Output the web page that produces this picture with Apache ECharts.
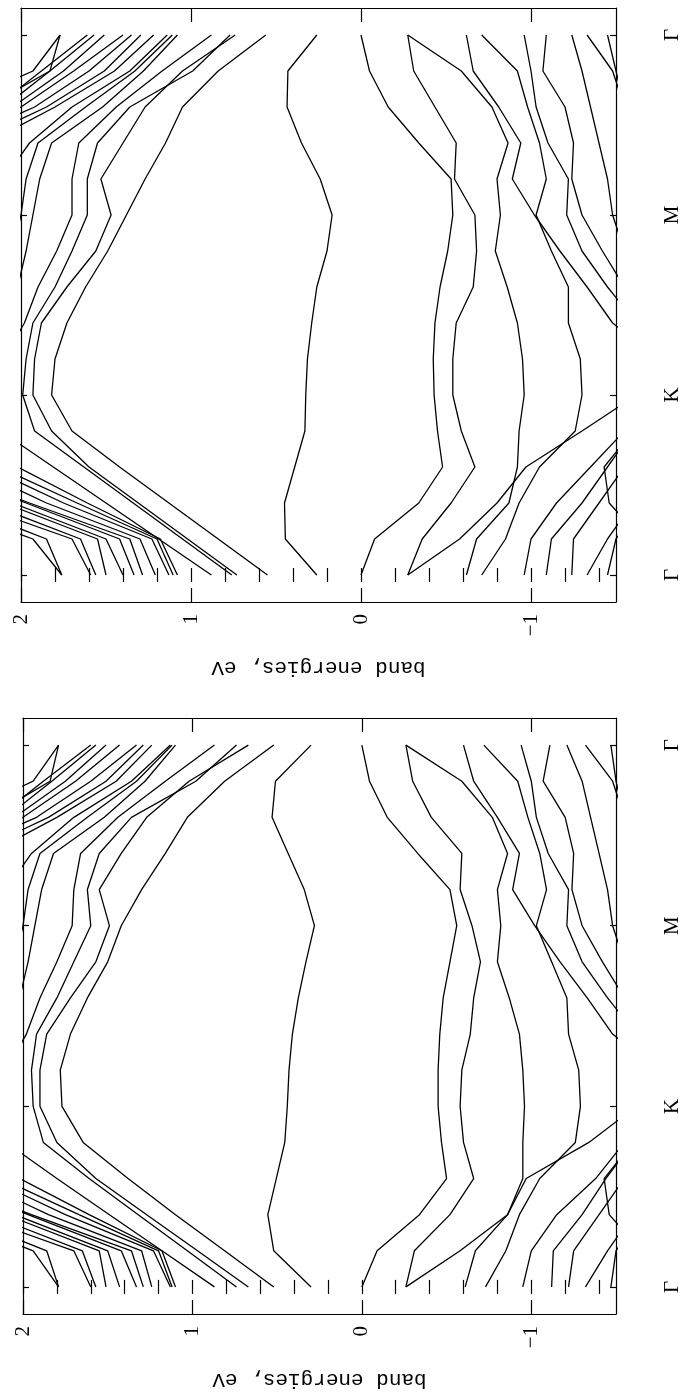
<!DOCTYPE html>
<html>
<head>
<meta charset="utf-8">
<script src="https://cdn.jsdelivr.net/npm/echarts@6/dist/echarts.min.js"></script>
<style>
html,body{margin:0;padding:0;background:#fff;}
#chart{width:683px;height:1396px;}
</style>
</head>
<body>
<div id="chart"></div>
<script>
// k-path sample positions (Γ=0, K=1, M=2, Γ=3)
const kPath = [0, 0.2, 0.4, 0.6, 0.8, 1.0, 1.2, 1.4, 1.6, 1.8, 2.0, 2.2, 2.4, 2.6, 2.8, 3.0];
const kTickValues = [0, 1, 2, 3];
const kTickLabels = ['Γ', 'K', 'M', 'Γ'];
const energyMajorTicks = [-1, 0, 1, 2];
const energyMinorTicks = [-1.4, -1.2, -1, -0.8, -0.6, -0.4, -0.2, 0, 0.2, 0.4, 0.6, 0.8, 1, 1.2, 1.4, 1.6, 1.8, 2];
const energyLabels = {'-1': '−1', '0': '0', '1': '1', '2': '2'};
const axisTitle = 'band energies, eV';

// upper panel bands (eV at each kPath point)
const topConduction = [
  [0.26, 0.445, 0.45, 0.39, 0.33, 0.325, 0.315, 0.29, 0.26, 0.20, 0.17, 0.24, 0.35, 0.435, 0.43, 0.26],
  [0.55, 0.84, 1.13, 1.42, 1.70, 1.82, 1.80, 1.73, 1.62, 1.49, 1.38, 1.27, 1.15, 1.05, 0.84, 0.56],
  [0.73, 1.02, 1.31, 1.60, 1.82, 1.93, 1.92, 1.88, 1.73, 1.56, 1.47, 1.53, 1.40, 1.27, 1.05, 0.74],
  [0.76, 1.05, 1.34, 1.63, 1.92, 1.99, 1.97, 1.93, 1.80, 1.70, 1.61, 1.61, 1.55, 1.36, 0.99, 0.77],
  [0.88, 1.19, 1.50, 1.81, 2.12, 2.20, 2.10, 1.98, 1.90, 1.79, 1.70, 1.70, 1.66, 1.44, 1.17, 0.88],
  [1.08, 1.18, 1.61, 2.02, 2.30, 2.30, 2.20, 2.10, 2.02, 1.97, 1.93, 1.89, 1.82, 1.52, 1.28, 1.08],
  [1.105, 1.20, 1.67, 2.13, 2.40, 2.40, 2.30, 2.20, 2.10, 2.05, 2.00, 1.97, 1.90, 1.62, 1.33, 1.11],
  [1.13, 1.23, 1.75, 2.20, 2.50, 2.50, 2.50, 2.40, 2.30, 2.20, 2.15, 2.10, 1.95, 1.70, 1.36, 1.14],
  [1.21, 1.30, 1.85, 2.30, 2.60, 2.60, 2.60, 2.60, 2.60, 2.50, 2.40, 2.30, 2.20, 1.80, 1.45, 1.22],
  [1.285, 1.36, 1.95, 2.50, 2.60, 2.60, 2.60, 2.60, 2.60, 2.60, 2.50, 2.40, 2.30, 1.85, 1.51, 1.295],
  [1.335, 1.42, 1.97, 2.50, 2.60, 2.60, 2.60, 2.60, 2.60, 2.60, 2.60, 2.50, 2.40, 1.92, 1.60, 1.35],
  [1.40, 1.50, 2.05, 2.60, 2.60, 2.60, 2.60, 2.60, 2.60, 2.60, 2.60, 2.60, 2.50, 2.00, 1.69, 1.40],
  [1.50, 1.55, 2.10, 2.60, 2.60, 2.60, 2.60, 2.60, 2.60, 2.60, 2.60, 2.60, 2.50, 2.05, 1.75, 1.51],
  [1.56, 1.65, 2.20, 2.60, 2.60, 2.60, 2.60, 2.60, 2.60, 2.60, 2.60, 2.60, 2.60, 2.10, 1.83, 1.57],
  [1.59, 1.70, 2.30, 2.60, 2.60, 2.60, 2.60, 2.60, 2.60, 2.60, 2.60, 2.60, 2.60, 2.15, 1.88, 1.61],
  [1.76, 1.85, 2.40, 2.60, 2.60, 2.60, 2.60, 2.60, 2.60, 2.60, 2.60, 2.60, 2.60, 2.20, 1.83, 1.77],
  [1.76, 1.93, 2.50, 2.60, 2.60, 2.60, 2.60, 2.60, 2.60, 2.60, 2.60, 2.60, 2.60, 2.40, 1.93, 1.77]
];
const topValence = [
  [0, -0.08, -0.34, -0.48, -0.45, -0.43, -0.425, -0.435, -0.465, -0.51, -0.54, -0.53, -0.34, -0.16, -0.05, 0],
  [-0.275, -0.36, -0.53, -0.67, -0.59, -0.54, -0.54, -0.56, -0.66, -0.68, -0.67, -0.55, -0.56, -0.435, -0.31, -0.275],
  [-0.62, -0.68, -0.87, -0.92, -0.93, -0.96, -0.95, -0.92, -0.86, -0.79, -0.82, -0.80, -0.865, -0.77, -0.59, -0.275],
  [-0.275, -0.58, -0.80, -0.97, -1.30, -1.62, -1.75, -1.48, -1.33, -1.17, -1.02, -0.89, -0.94, -0.81, -0.66, -0.62],
  [-0.71, -0.85, -0.93, -1.05, -1.26, -1.30, -1.29, -1.22, -1.22, -1.12, -1.03, -1.09, -1.05, -0.98, -0.92, -0.71],
  [-0.96, -1.00, -1.15, -1.35, -1.55, -1.75, -1.80, -1.62, -1.45, -1.30, -1.21, -1.22, -1.10, -1.03, -1.00, -0.96],
  [-1.09, -1.12, -1.30, -1.45, -1.60, -1.80, -1.85, -1.80, -1.55, -1.42, -1.30, -1.24, -1.25, -1.20, -1.07, -1.09],
  [-1.24, -1.25, -1.40, -1.55, -1.70, -1.90, -1.90, -1.85, -1.70, -1.55, -1.48, -1.45, -1.40, -1.35, -1.30, -1.24],
  [-1.33, -1.45, -1.60, -1.75, -1.90, -2.00, -2.00, -2.00, -1.90, -1.80, -1.70, -1.65, -1.60, -1.55, -1.48, -1.33],
  [-1.45, -1.50, -1.65, -1.80, -2.00, -2.00, -2.00, -2.00, -2.00, -2.00, -1.80, -1.70, -1.60, -1.55, -1.50, -1.45],
  [-1.80, -1.65, -1.46, -1.43, -1.60, -1.80, -1.90, -1.90, -1.90, -1.90, -1.90, -1.90, -1.90, -1.90, -1.90, -1.90]
];

// lower panel bands
const bottomConduction = [
  [0.30, 0.52, 0.555, 0.505, 0.455, 0.44, 0.43, 0.41, 0.375, 0.33, 0.28, 0.34, 0.435, 0.53, 0.51, 0.30],
  [0.52, 0.81, 1.10, 1.38, 1.645, 1.77, 1.78, 1.72, 1.62, 1.50, 1.42, 1.30, 1.16, 1.03, 0.81, 0.52],
  [0.67, 0.97, 1.27, 1.57, 1.80, 1.90, 1.90, 1.86, 1.72, 1.57, 1.49, 1.55, 1.42, 1.27, 1.02, 0.67],
  [0.74, 1.03, 1.32, 1.61, 1.88, 1.94, 1.95, 1.92, 1.80, 1.70, 1.60, 1.62, 1.55, 1.36, 0.98, 0.74],
  [0.87, 1.18, 1.49, 1.80, 2.10, 2.20, 2.10, 1.98, 1.90, 1.80, 1.71, 1.70, 1.66, 1.44, 1.16, 0.87],
  [1.10, 1.18, 1.61, 2.02, 2.30, 2.30, 2.20, 2.10, 2.02, 1.97, 1.93, 1.89, 1.82, 1.52, 1.28, 1.10],
  [1.12, 1.20, 1.67, 2.13, 2.40, 2.40, 2.30, 2.20, 2.10, 2.05, 2.00, 1.97, 1.90, 1.62, 1.33, 1.12],
  [1.13, 1.23, 1.75, 2.20, 2.50, 2.50, 2.50, 2.40, 2.30, 2.20, 2.15, 2.10, 1.95, 1.70, 1.36, 1.13],
  [1.24, 1.30, 1.85, 2.30, 2.60, 2.60, 2.60, 2.60, 2.60, 2.50, 2.40, 2.30, 2.20, 1.80, 1.45, 1.24],
  [1.29, 1.36, 1.95, 2.50, 2.60, 2.60, 2.60, 2.60, 2.60, 2.60, 2.50, 2.40, 2.30, 1.85, 1.51, 1.29],
  [1.33, 1.42, 1.97, 2.50, 2.60, 2.60, 2.60, 2.60, 2.60, 2.60, 2.60, 2.50, 2.40, 1.92, 1.60, 1.33],
  [1.43, 1.50, 2.05, 2.60, 2.60, 2.60, 2.60, 2.60, 2.60, 2.60, 2.60, 2.60, 2.50, 2.00, 1.69, 1.43],
  [1.51, 1.55, 2.10, 2.60, 2.60, 2.60, 2.60, 2.60, 2.60, 2.60, 2.60, 2.60, 2.50, 2.05, 1.75, 1.51],
  [1.57, 1.65, 2.20, 2.60, 2.60, 2.60, 2.60, 2.60, 2.60, 2.60, 2.60, 2.60, 2.60, 2.10, 1.83, 1.57],
  [1.60, 1.70, 2.30, 2.60, 2.60, 2.60, 2.60, 2.60, 2.60, 2.60, 2.60, 2.60, 2.60, 2.15, 1.88, 1.60],
  [1.79, 1.86, 2.40, 2.60, 2.60, 2.60, 2.60, 2.60, 2.60, 2.60, 2.60, 2.60, 2.60, 2.20, 1.84, 1.79],
  [1.79, 1.94, 2.50, 2.60, 2.60, 2.60, 2.60, 2.60, 2.60, 2.60, 2.60, 2.60, 2.60, 2.40, 1.94, 1.79]
];
const bottomValence = [
  [0, -0.09, -0.34, -0.50, -0.47, -0.45, -0.45, -0.46, -0.48, -0.52, -0.56, -0.52, -0.33, -0.15, -0.045, 0],
  [-0.26, -0.31, -0.52, -0.66, -0.60, -0.58, -0.59, -0.64, -0.66, -0.70, -0.65, -0.58, -0.59, -0.41, -0.30, -0.26],
  [-0.61, -0.67, -0.86, -0.95, -0.95, -0.96, -0.95, -0.93, -0.87, -0.80, -0.82, -0.80, -0.86, -0.77, -0.59, -0.26],
  [-0.26, -0.58, -0.86, -0.97, -1.34, -1.62, -1.75, -1.48, -1.33, -1.17, -1.02, -0.89, -0.93, -0.80, -0.66, -0.60],
  [-0.73, -0.85, -0.93, -1.05, -1.26, -1.29, -1.28, -1.22, -1.21, -1.12, -1.03, -1.09, -1.05, -0.98, -0.92, -0.72],
  [-0.95, -1.00, -1.15, -1.38, -1.55, -1.75, -1.80, -1.62, -1.45, -1.30, -1.21, -1.22, -1.10, -1.03, -1.00, -0.94],
  [-1.12, -1.13, -1.30, -1.44, -1.60, -1.80, -1.85, -1.80, -1.55, -1.42, -1.30, -1.24, -1.25, -1.20, -1.07, -1.11],
  [-1.22, -1.25, -1.40, -1.55, -1.70, -1.90, -1.90, -1.85, -1.70, -1.55, -1.48, -1.45, -1.40, -1.35, -1.30, -1.21],
  [-1.32, -1.45, -1.60, -1.75, -1.90, -2.00, -2.00, -2.00, -1.90, -1.80, -1.70, -1.65, -1.60, -1.55, -1.48, -1.32],
  [-1.47, -1.50, -1.65, -1.80, -2.00, -2.00, -2.00, -2.00, -2.00, -2.00, -1.80, -1.70, -1.60, -1.55, -1.50, -1.47],
  [-1.80, -1.65, -1.46, -1.43, -1.60, -1.80, -1.90, -1.90, -1.90, -1.90, -1.90, -1.90, -1.90, -1.90, -1.90, -1.90]
];

const panels = [
  {grid: {left: 21, top: 8, width: 597, height: 594}, bands: topConduction.concat(topValence)},
  {grid: {left: 23, top: 718, width: 598, height: 596}, bands: bottomConduction.concat(bottomValence)}
];

const INK = '#000000';
const serif = '"Liberation Serif", "DejaVu Serif", serif';
const mono = '"Liberation Mono", "DejaVu Sans Mono", monospace';

const option = {
  animation: false,
  backgroundColor: '#ffffff',
  grid: [], xAxis: [], yAxis: [], series: []
};

panels.forEach((p, gi) => {
  option.grid.push(Object.assign({containLabel: false}, p.grid));
  const eBase = {type: 'value', gridIndex: gi, min: -1.5, max: 2, inverse: true, splitLine: {show: false}};
  option.xAxis.push(Object.assign({}, eBase, {
    position: 'bottom',
    axisLine: {show: true, onZero: false, lineStyle: {color: INK, width: 1.2}},
    axisTick: {show: true, inside: true, length: 14, customValues: energyMajorTicks, lineStyle: {color: INK, width: 1.2}},
    axisLabel: {show: true, customValues: energyMajorTicks, rotate: 90, margin: 12,
      formatter: v => energyLabels[String(Math.round(v))],
      color: INK, fontFamily: serif, fontSize: 21},
    name: axisTitle, nameLocation: 'middle', nameGap: 55, nameRotate: 180,
    nameTextStyle: {color: INK, fontFamily: mono, fontSize: 21}
  }));
  option.xAxis.push(Object.assign({}, eBase, {
    position: 'bottom',
    axisLine: {show: false},
    axisTick: {show: true, inside: true, length: 7, customValues: energyMinorTicks, lineStyle: {color: INK, width: 1.2}},
    axisLabel: {show: false}
  }));
  option.xAxis.push(Object.assign({}, eBase, {
    position: 'top',
    axisLine: {show: true, onZero: false, lineStyle: {color: INK, width: 1.2}},
    axisTick: {show: true, inside: true, length: 14, customValues: energyMajorTicks, lineStyle: {color: INK, width: 1.2}},
    axisLabel: {show: false}
  }));
  option.xAxis.push(Object.assign({}, eBase, {
    position: 'top',
    axisLine: {show: false},
    axisTick: {show: true, inside: true, length: 7, customValues: energyMinorTicks, lineStyle: {color: INK, width: 1.2}},
    axisLabel: {show: false}
  }));
  const kBase = {type: 'value', gridIndex: gi, min: -0.15, max: 3.15, splitLine: {show: false}};
  option.yAxis.push(Object.assign({}, kBase, {
    position: 'left',
    axisLine: {show: true, onZero: false, lineStyle: {color: INK, width: 1.2}},
    axisTick: {show: true, inside: true, length: 6, customValues: kTickValues, lineStyle: {color: INK, width: 1.2}},
    axisLabel: {show: false}
  }));
  option.yAxis.push(Object.assign({}, kBase, {
    position: 'right',
    axisLine: {show: true, onZero: false, lineStyle: {color: INK, width: 1.2}},
    axisTick: {show: true, inside: true, length: 6, customValues: kTickValues, lineStyle: {color: INK, width: 1.2}},
    axisLabel: {show: true, customValues: kTickValues, rotate: 90, margin: 46,
      formatter: v => kTickLabels[Math.round(v)],
      color: INK, fontFamily: serif, fontSize: 21}
  }));
  p.bands.forEach(band => {
    option.series.push({
      type: 'line', xAxisIndex: gi * 4, yAxisIndex: gi * 2,
      data: band.map((e, i) => [e, kPath[i]]),
      showSymbol: false, symbol: 'none', clip: true, silent: true,
      lineStyle: {color: INK, width: 1.3}
    });
  });
});

const chart = echarts.init(document.getElementById('chart'), null, {renderer: 'canvas'});
chart.setOption(option);
</script>
</body>
</html>
